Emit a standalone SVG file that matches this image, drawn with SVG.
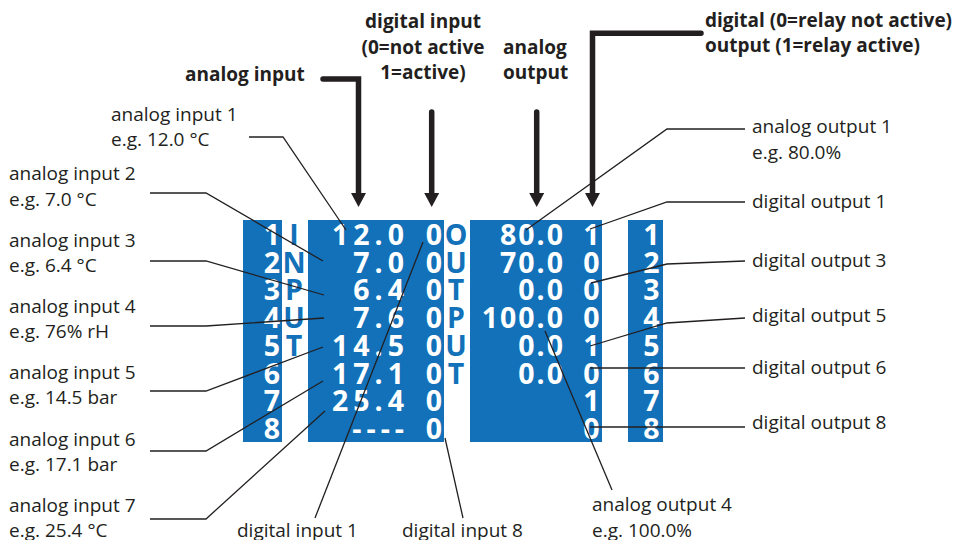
<svg xmlns="http://www.w3.org/2000/svg" width="966" height="540" viewBox="0 0 966 540">
  <style>
    .panel { fill: #1271b9; }
    .lcd { font-family: "Open Sans", "Liberation Sans", sans-serif; font-weight: 700; font-size: 28.5px; fill: #ffffff; }
    .tag { font-family: "Open Sans", "Liberation Sans", sans-serif; font-weight: 700; font-size: 28.5px; fill: #1271b9; text-anchor: middle; }
    .mid { text-anchor: middle; }
    .end { text-anchor: end; }
    .lbl { font-family: "Open Sans", "Liberation Sans", sans-serif; font-size: 19px; fill: #231f20; }
    .hd { font-family: "Open Sans", "Liberation Sans", sans-serif; font-weight: 700; font-size: 19px; fill: #231f20; }
    .lead { fill: none; stroke: #231f20; stroke-width: 1.3; }
    .arrow { fill: none; stroke: #231f20; stroke-width: 5.5; stroke-linecap: round; }
    .head { fill: #231f20; }
  </style>
  <rect width="966" height="540" fill="#ffffff"/>

  <!-- channel index column, inputs -->
  <g id="input-index">
    <rect class="panel" x="243" y="220" width="39" height="222"/>
    <g class="lcd mid">
      <text x="272" y="245">1</text>
      <text x="272" y="272.7">2</text>
      <text x="272" y="300.4">3</text>
      <text x="272" y="328.1">4</text>
      <text x="272" y="355.8">5</text>
      <text x="272" y="383.5">6</text>
      <text x="272" y="411.2">7</text>
      <text x="272" y="438.9">8</text>
    </g>
    <g class="tag">
      <text x="294" y="245">I</text>
      <text x="294" y="272.7">N</text>
      <text x="294" y="300.4">P</text>
      <text x="294" y="328.1">U</text>
      <text x="294" y="355.8">T</text>
    </g>
  </g>

  <!-- analog input values and digital input states -->
  <g id="input-values">
    <rect class="panel" x="308" y="220" width="136" height="222"/>
    <g class="lcd end" letter-spacing="5">
      <text x="409" y="245">12.0</text>
      <text x="409" y="272.7">7.0</text>
      <text x="409" y="300.4">6.4</text>
      <text x="409" y="328.1">7.6</text>
      <text x="409" y="355.8">14.5</text>
      <text x="409" y="383.5">17.1</text>
      <text x="409" y="411.2">25.4</text>
      <text x="409" y="438.9">----</text>
    </g>
    <g class="lcd mid">
      <text x="434" y="245">0</text>
      <text x="434" y="272.7">0</text>
      <text x="434" y="300.4">0</text>
      <text x="434" y="328.1">0</text>
      <text x="434" y="355.8">0</text>
      <text x="434" y="383.5">0</text>
      <text x="434" y="411.2">0</text>
      <text x="434" y="438.9">0</text>
    </g>
    <g class="tag">
      <text x="456" y="245">O</text>
      <text x="456" y="272.7">U</text>
      <text x="456" y="300.4">T</text>
      <text x="456" y="328.1">P</text>
      <text x="456" y="355.8">U</text>
      <text x="456" y="383.5">T</text>
    </g>
  </g>

  <!-- analog output values and relay states -->
  <g id="output-values">
    <rect class="panel" x="470" y="220" width="132" height="222"/>
    <g class="lcd end" letter-spacing="2">
      <text x="565" y="245">80.0</text>
      <text x="565" y="272.7">70.0</text>
      <text x="565" y="300.4">0.0</text>
      <text x="565" y="328.1">100.0</text>
      <text x="565" y="355.8">0.0</text>
      <text x="565" y="383.5">0.0</text>
    </g>
    <g class="lcd mid">
      <text x="591.5" y="245">1</text>
      <text x="591.5" y="272.7">0</text>
      <text x="591.5" y="300.4">0</text>
      <text x="591.5" y="328.1">0</text>
      <text x="591.5" y="355.8">1</text>
      <text x="591.5" y="383.5">0</text>
      <text x="591.5" y="411.2">1</text>
      <text x="591.5" y="438.9">0</text>
    </g>
  </g>

  <!-- channel index column, outputs -->
  <g id="output-index">
    <rect class="panel" x="628" y="220" width="35" height="222"/>
    <g class="lcd mid">
      <text x="651.5" y="245">1</text>
      <text x="651.5" y="272.7">2</text>
      <text x="651.5" y="300.4">3</text>
      <text x="651.5" y="328.1">4</text>
      <text x="651.5" y="355.8">5</text>
      <text x="651.5" y="383.5">6</text>
      <text x="651.5" y="411.2">7</text>
      <text x="651.5" y="438.9">8</text>
    </g>
  </g>

  <!-- column headings -->
  <g id="heading-analog-input" class="hd">
    <text x="185" y="81">analog input</text>
  </g>
  <g id="heading-digital-input" class="hd mid">
    <text x="423" y="28">digital input</text>
    <text x="423" y="53.5">(0=not active</text>
    <text x="423" y="79">1=active)</text>
  </g>
  <g id="heading-analog-output" class="hd">
    <text x="503" y="53.5">analog</text>
    <text x="503" y="79">output</text>
  </g>
  <g id="heading-digital-output" class="hd">
    <text x="705" y="26.5">digital (0=relay not active)</text>
    <text x="705" y="52">output (1=relay active)</text>
  </g>

  <!-- callout labels -->
  <g id="label-ai1" class="lbl"><text x="111" y="120.5">analog input 1</text><text x="111" y="146">e.g. 12.0 °C</text></g>
  <g id="label-ai2" class="lbl"><text x="9" y="180">analog input 2</text><text x="9" y="206">e.g. 7.0 °C</text></g>
  <g id="label-ai3" class="lbl"><text x="9" y="247">analog input 3</text><text x="9" y="272">e.g. 6.4 °C</text></g>
  <g id="label-ai4" class="lbl"><text x="9" y="313">analog input 4</text><text x="9" y="337.5">e.g. 76% rH</text></g>
  <g id="label-ai5" class="lbl"><text x="9" y="379">analog input 5</text><text x="9" y="404">e.g. 14.5 bar</text></g>
  <g id="label-ai6" class="lbl"><text x="9" y="446">analog input 6</text><text x="9" y="471">e.g. 17.1 bar</text></g>
  <g id="label-ai7" class="lbl"><text x="9" y="512">analog input 7</text><text x="9" y="537">e.g. 25.4 °C</text></g>
  <g id="label-di1" class="lbl"><text x="237" y="537">digital input 1</text></g>
  <g id="label-di8" class="lbl"><text x="402" y="537">digital input 8</text></g>
  <g id="label-ao4" class="lbl"><text x="592" y="511">analog output 4</text><text x="592" y="537">e.g. 100.0%</text></g>
  <g id="label-ao1" class="lbl"><text x="752" y="133">analog output 1</text><text x="752" y="158.5">e.g. 80.0%</text></g>
  <g id="label-do1" class="lbl"><text x="752" y="207.5">digital output 1</text></g>
  <g id="label-do3" class="lbl"><text x="752" y="267">digital output 3</text></g>
  <g id="label-do5" class="lbl"><text x="752" y="322">digital output 5</text></g>
  <g id="label-do6" class="lbl"><text x="752" y="373.5">digital output 6</text></g>
  <g id="label-do8" class="lbl"><text x="752" y="428.5">digital output 8</text></g>

  <!-- connectors -->
  <g id="connectors">
    <g class="lead">
      <path d="M249 137 H283 L346 230"/>
      <path d="M150 193 H206 L323 261"/>
      <path d="M150 261 H206 L324 295"/>
      <path d="M150 326 H206 L324 318"/>
      <path d="M150 391 H206 L323 347"/>
      <path d="M150 451 H206 L323 381"/>
      <path d="M150 519 H206 L325 411"/>
      <path d="M315 518 L423 242"/>
      <path d="M445 438 L463 518"/>
      <path d="M545 331 L612 490"/>
      <path d="M745 129 H667 L526 230"/>
      <path d="M745 202 H667 L590 229"/>
      <path d="M745 261 L667 264 L591 283"/>
      <path d="M745 318 L667 323 L590 346"/>
      <path d="M745 368 H590"/>
      <path d="M745 427 H590"/>
    </g>
    <g class="arrow">
      <path d="M323 79 H358.5 V195"/>
      <path d="M431.7 112 V195"/>
      <path d="M536.7 112 V195"/>
      <path d="M701 33.3 H592.5 V195"/>
    </g>
    <g class="head">
      <polygon points="351,193 366,193 358.5,207"/>
      <polygon points="424.2,193 439.2,193 431.7,207"/>
      <polygon points="529.2,193 544.2,193 536.7,207"/>
      <polygon points="585,193 600,193 592.5,207"/>
    </g>
  </g>
</svg>
